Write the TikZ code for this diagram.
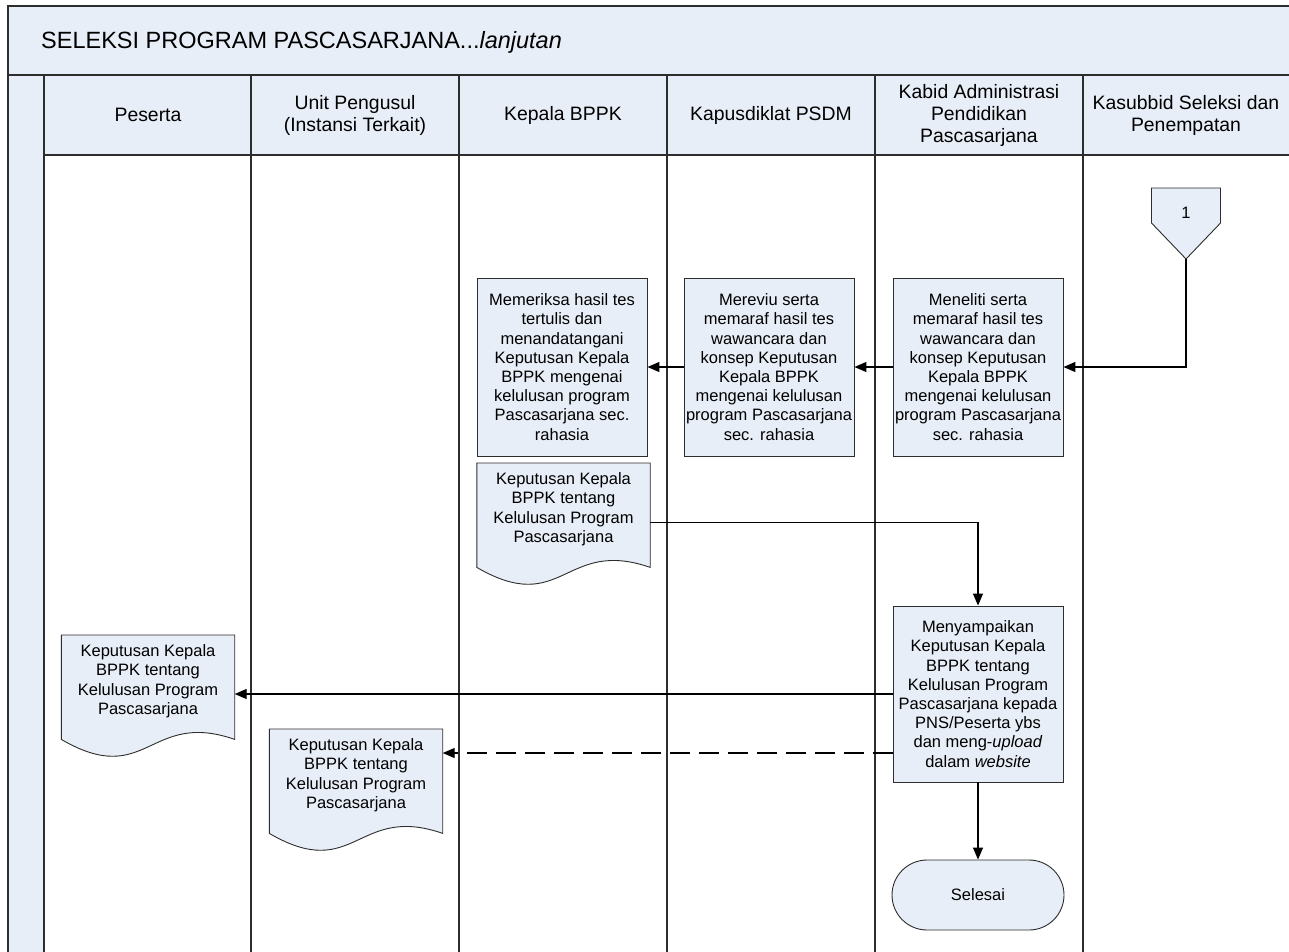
\documentclass[tikz,border=0pt]{standalone}
\usepackage{fontspec}
\setmainfont{Liberation Sans}
\usetikzlibrary{arrows.meta, positioning, calc, backgrounds}
\definecolor{lanefill}{RGB}{232,238,247}
\definecolor{linegray}{RGB}{45,45,45}

\newcommand{\boxfont}{\fontsize{16.5pt}{19.2pt}\selectfont}
\newcommand{\headfont}{\fontsize{19.4pt}{22pt}\selectfont}

\begin{document}
\begin{tikzpicture}[x=1pt, y=-1pt,
  lane/.style={draw=linegray, fill=lanefill, line width=1.2pt},
  laneline/.style={draw=linegray, line width=1.2pt},
  lanehead/.style={align=center, font=\headfont, inner sep=0pt},
  box/.style={draw=linegray, fill=lanefill, line width=0.9pt, minimum width=170, minimum height=178, align=center, inner sep=2pt, font=\boxfont},
  doc/.style={minimum width=173, minimum height=92, align=center, inner sep=2pt, font=\boxfont},
  term/.style={draw=linegray, fill=lanefill, line width=0.9pt, rounded corners=35pt, minimum width=172, minimum height=70, font=\boxfont},
  shapeline/.style={draw=linegray, fill=lanefill, line width=0.9pt},
  flow/.style={-{Triangle[length=12pt, width=10pt]}, line width=1.3pt, black},
  dashflow/.style={flow, dash pattern=on 20pt off 9pt}
]
\useasboundingbox (0,0) rectangle (1289,951);

% Swimlanes
\begin{scope}[on background layer]
\filldraw[lane] (8,6) rectangle (1293,75);
\filldraw[lane] (8,75) rectangle (44,960);
\filldraw[lane] (44,75) rectangle (1293,155);
\foreach \x in {251,459,667,875,1083}
  \draw[laneline] (\x,75) -- (\x,960);
\end{scope}

% Title and lane headers
\node[anchor=west, inner sep=0pt, font=\fontsize{23.5pt}{28pt}\selectfont] (title) at (41,42)
  {SELEKSI PROGRAM PASCASARJANA...\textit{lanjutan}};
\node[lanehead] (hpeserta) at (148,115) {Peserta};
\node[lanehead] (hunit) at (355,115) {Unit Pengusul\\(Instansi Terkait)};
\node[lanehead] (hkepala) at (563,115) {Kepala BPPK};
\node[lanehead] (hkapus) at (771,115) {Kapusdiklat PSDM};
\node[lanehead] (hkabid) at (979,115) {Kabid Administrasi\\Pendidikan\\Pascasarjana};
\node[lanehead] (hkasub) at (1186,115) {Kasubbid Seleksi dan\\Penempatan};

% Off-page connector
\node[font=\boxfont, inner sep=0pt] (con1) at (1186,213) {1};
\coordinate (con1tip) at ($(con1)+(0,46)$);

% Process boxes
\node[box] (meneliti) at (978,367)
  {Meneliti serta\\memaraf hasil tes\\wawancara dan\\konsep Keputusan\\Kepala BPPK\\mengenai kelulusan\\program Pascasarjana\\sec. rahasia};
\node[box] (mereviu) at (769,367)
  {Mereviu serta\\memaraf hasil tes\\wawancara dan\\konsep Keputusan\\Kepala BPPK\\mengenai kelulusan\\program Pascasarjana\\sec. rahasia};
\node[box] (memeriksa) at (562,367)
  {Memeriksa hasil tes\\tertulis dan\\menandatangani\\Keputusan Kepala\\BPPK mengenai\\kelulusan program\\Pascasarjana sec.\\rahasia};
\node[box, minimum height=176] (menyampaikan) at (978,694)
  {Menyampaikan\\Keputusan Kepala\\BPPK tentang\\Kelulusan Program\\Pascasarjana kepada\\PNS/Peserta ybs\\dan meng-\textit{upload}\\dalam \textit{website}};
\node[term] (selesai) at (978,895) {Selesai};

% Documents
\node[doc, anchor=north] (kdoc) at (563.5,463)
  {Keputusan Kepala\\BPPK tentang\\Kelulusan Program\\Pascasarjana};
\node[doc, anchor=north] (pdoc) at (148,635)
  {Keputusan Kepala\\BPPK tentang\\Kelulusan Program\\Pascasarjana};
\node[doc, anchor=north] (udoc) at (356,729)
  {Keputusan Kepala\\BPPK tentang\\Kelulusan Program\\Pascasarjana};

\begin{scope}[on background layer]
\foreach \d in {kdoc, pdoc, udoc}
  \filldraw[shapeline] (\d.north west) -- ($(\d.south west)+(0,12)$)
    .. controls +(86,50) and +(-86,-30) .. ($(\d.south east)+(0,12)$)
    -- (\d.north east) -- cycle;
\filldraw[shapeline] ($(con1)+(-34.5,-25)$) -- ($(con1)+(34.5,-25)$) -- ($(con1)+(34.5,10)$)
  -- (con1tip) -- ($(con1)+(-34.5,10)$) -- cycle;
\end{scope}

% Connectors
\draw[flow] (con1tip) |- (meneliti.east);
\draw[flow] (meneliti.west) -- (mereviu.east);
\draw[flow] (mereviu.west) -- (memeriksa.east);
\draw[flow] ([yshift=-13pt]kdoc.east) -| (menyampaikan.north);
\draw[flow] (menyampaikan.west) -- (menyampaikan.west -| pdoc.east);
\draw[dashflow] ([yshift=-59pt]menyampaikan.west) -- ([yshift=-59pt]menyampaikan.west -| udoc.east);
\draw[flow] (menyampaikan.south) -- (selesai.north);

\end{tikzpicture}
\end{document}
